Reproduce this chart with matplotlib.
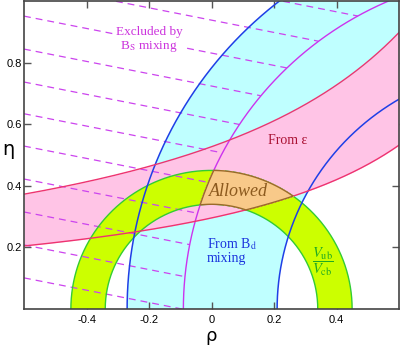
import matplotlib
matplotlib.use("Agg")
import matplotlib.pyplot as plt
import numpy as np
from matplotlib.patches import Wedge

plt.rcParams['mathtext.fontset'] = 'stix'

# constraint values (rho, eta plane)
vub_radii = [0.34, 0.45]          # |Vub/Vcb| circles around (0, 0)
bd_radii = [0.79, 1.27]           # B_d mixing circles around (1, 0)
bs_radius = 1.09                  # B_s mixing limit around (1, 0)
eps_scale = [0.399, 0.765]        # epsilon hyperbolas eta = scale / (pole - rho)
eps_pole = [1.35, 1.452]
hatch_eta0 = [1.165, 1.058, 0.951, 0.844, 0.737, 0.634, 0.529, 0.422, 0.315, 0.208, 0.101]
hatch_slope = -0.2

xticks = [-0.4, -0.2, 0, 0.2, 0.4]
yticks = [0.2, 0.4, 0.6, 0.8]

c_cyan = '#bfffff'
c_pink = '#ffc4e6'
c_green = '#ccff00'
c_orange = '#f8c989'

fig = plt.figure(figsize=(4, 3.46), dpi=100)
ax = fig.add_axes([0.06, 0.107, 0.9375, 0.89])
ax.set_xlim(-0.6, 0.6)
ax.set_ylim(0, 1.0)

rho = np.linspace(-0.6, 0.6, 1200)
th = np.linspace(0, np.pi, 1500)

# B_d mixing band
ax.add_patch(Wedge((1, 0), bd_radii[1], 0, 180, width=bd_radii[1] - bd_radii[0],
                   facecolor=c_cyan, edgecolor='none', zorder=1))

# epsilon band
low = eps_scale[0] / (eps_pole[0] - rho)
up = eps_scale[1] / (eps_pole[1] - rho)
ax.fill_between(rho, low, up, color=c_pink, lw=0, zorder=2)

# Vub/Vcb band
ax.add_patch(Wedge((0, 0), vub_radii[1], 0, 180, width=vub_radii[1] - vub_radii[0],
                   facecolor=c_green, edgecolor='none', zorder=3))

# excluded by B_s hatching
for e0 in hatch_eta0:
    eta = e0 + hatch_slope * (rho + 0.6)
    eta = np.where((rho - 1) ** 2 + eta ** 2 > bs_radius ** 2, eta, np.nan)
    ax.plot(rho, eta, color='#cc44ee', lw=0.9, dashes=(5.5, 4), zorder=4)

# boundary lines
for r in vub_radii:
    ax.plot(r * np.cos(th), r * np.sin(th), color='#33cc33', lw=1.0, zorder=5)
for r in bd_radii:
    ax.plot(1 + r * np.cos(th), r * np.sin(th), color='#1f3fe6', lw=1.1, zorder=5)
ax.plot(1 + bs_radius * np.cos(th), bs_radius * np.sin(th), color='#cc33ee', lw=1.0, zorder=5)
ax.plot(rho, low, color='#ee3370', lw=1.0, zorder=5)
ax.plot(rho, up, color='#ee3370', lw=1.0, zorder=5)

# allowed region = overlap of all constraints
gx, gy = np.meshgrid(np.linspace(-0.2, 0.4, 700), np.linspace(0.15, 0.55, 500))
r0 = np.hypot(gx, gy)
r1 = np.hypot(gx - 1, gy)
f = np.minimum.reduce([r0 - vub_radii[0], vub_radii[1] - r0,
                       r1 - bd_radii[0], bd_radii[1] - r1, bs_radius - r1,
                       gy - eps_scale[0] / (eps_pole[0] - gx),
                       eps_scale[1] / (eps_pole[1] - gx) - gy])
ax.contourf(gx, gy, f, levels=[0, 10], colors=[c_orange], zorder=6)
ax.contour(gx, gy, f, levels=[0], colors=['#9a6a2a'], linewidths=1.0, zorder=7)

# labels
serif = 'Liberation Serif'
ax.text(0.086, 0.383, 'Allowed', family=serif, style='italic', fontsize=13,
        color='#8c5a1e', ha='center', va='center', zorder=8)
ax.text(-0.2, 0.873, 'Excluded by\nB$_\\mathrm{S}$ mixing', family=serif, fontsize=9.5,
        color='#cc33dd', ha='center', va='center', linespacing=1.15, zorder=8,
        bbox=dict(facecolor='white', edgecolor='none', pad=1))
ax.text(0.243, 0.548, 'From \u03b5', family=serif, fontsize=10, color='#aa1133',
        ha='center', va='center', zorder=8)
ax.text(-0.015, 0.19, 'From B$_\\mathrm{d}$\nmixing', family=serif, fontsize=10,
        color='#1a33dd', ha='left', va='center', linespacing=1.05, zorder=8)
ax.text(0.358, 0.155, r'$\dfrac{V_{\mathrm{ub}}}{V_{\mathrm{cb}}}$', fontsize=10.5,
        color='#22aa22', ha='center', va='center', zorder=8)

ax.set_xticks(xticks)
ax.set_yticks(yticks)
ax.set_xticklabels([f'{v:g}' for v in xticks], family='Liberation Sans', fontsize=8)
ax.set_yticklabels([f'{v:g}' for v in yticks], family='Liberation Sans', fontsize=8)
ax.tick_params(axis='x', direction='in', top=True, length=5, width=1, color='#555555', pad=4)
ax.tick_params(axis='y', direction='in', right=True, length=5, width=1, color='#555555', pad=1.5)
for sp in ax.spines.values():
    sp.set_color('#444444')
    sp.set_linewidth(1.2)
    sp.set_zorder(10)

fig.text(8 / 400, 1 - 150 / 346, '\u03b7', fontsize=14, ha='center', va='center')
fig.text(211 / 400, 1 - 336 / 346, '\u03c1', fontsize=13, ha='center', va='center')

fig.savefig('out.png', dpi=100)
